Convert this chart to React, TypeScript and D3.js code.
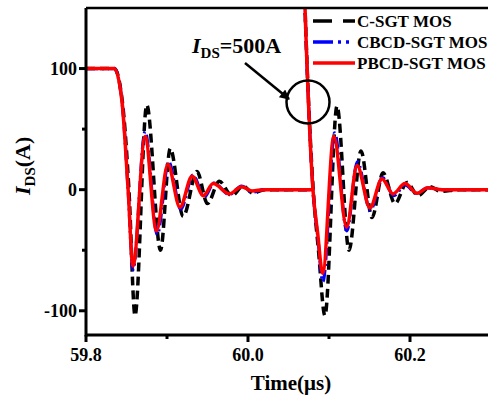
import React from "react";
import * as d3 from "d3";

// ---- data (time in µs, current in A) ----
const cTime1 = [59.8, 59.835, 59.845, 59.853, 59.8605, 59.875, 59.892, 59.904, 59.92, 59.937, 59.95, 59.9645, 59.98, 59.994, 60.006, 60.02, 60.05, 60.0805];
const cVal1 = [100, 100, 72, 0, -104, 70, -50, 34, -22, 15, -11.5, 7, -5, 3, -3, 0, 0, 0];
const cTime2 = [60.066, 60.0704, 60.0805, 60.087, 60.095, 60.1099, 60.1247, 60.1395, 60.1531, 60.1667, 60.1815, 60.1963, 60.2099, 60.2247, 60.238, 60.26, 60.3];
const cVal2 = [250, 150, 0, -50, -104, 69, -50, 32, -23, 14, -11.5, 6, -5, 2.5, -1.5, 0, 0];

const cbTime1 = [59.8, 59.835, 59.8444, 59.852, 59.858, 59.873, 59.888, 59.902, 59.917, 59.932, 59.946, 59.958, 59.977, 59.992, 60.005, 60.02, 60.05, 60.0802];
const cbVal1 = [100, 100, 73, 0, -66, 48, -37, 23, -16, 12, -6, 5.5, -4, 3, -2, 0, 0, 0];
const cbTime2 = [60.066, 60.0704, 60.0802, 60.086, 60.0925, 60.107, 60.122, 60.135, 60.151, 60.166, 60.18, 60.194, 60.208, 60.222, 60.24, 60.3];
const cbVal2 = [250, 150, 0, -38, -76, 47, -34, 23, -17, 10, -5, 4, -3, 1.5, 0, 0];

const pbTime1 = [59.8, 59.835, 59.8444, 59.852, 59.858, 59.873, 59.887, 59.901, 59.916, 59.931, 59.945, 59.957, 59.977, 59.992, 60.005, 60.02, 60.05, 60.0802];
const pbVal1 = [100, 100, 73, 0, -63, 44, -34, 21, -14.5, 11, -5, 5, -3.5, 2.5, -1, 0, 0, 0];
const pbTime2 = [60.066, 60.0704, 60.0802, 60.086, 60.0922, 60.106, 60.1218, 60.1346, 60.1506, 60.1654, 60.179, 60.1938, 60.2086, 60.222, 60.24, 60.3];
const pbVal2 = [250, 150, 0, -36, -69, 44, -31, 20, -15, 9, -3.5, 5, -3, 1.5, 0, 0];

const seriesNames = ["C-SGT MOS", "CBCD-SGT MOS", "PBCD-SGT MOS"];
const seriesColors = ["#000000", "#0000ff", "#ff0000"];

const xMajor = [59.8, 60.0, 60.2];
const xMinor = [59.9, 60.1];
const yMajor = [-100, 0, 100];
const yMinor = [-50, 50];

const W = 488;
const H = 399;
const left = 86;
const right = 491;
const top = 8;
const bottom = 335;

const serif = "Liberation Serif, DejaVu Serif, serif";

export default function App() {
  const x = d3.scaleLinear().domain([59.8, 60.3]).range([left, right]);
  const y = d3.scaleLinear().domain([-120, 150]).range([bottom, top]);
  const line = d3
    .line<number[]>()
    .x((d) => x(d[0]))
    .y((d) => y(d[1]))
    .curve(d3.curveMonotoneX);

  const zip = (t: number[], v: number[]) => t.map((tt, i) => [tt, v[i]]);
  const paths = [
    { d1: zip(cTime1, cVal1), d2: zip(cTime2, cVal2), color: seriesColors[0], w: 3.5, dash: "9,5" },
    { d1: zip(cbTime1, cbVal1), d2: zip(cbTime2, cbVal2), color: seriesColors[1], w: 3.2, dash: "12,4,2,4" },
    { d1: zip(pbTime1, pbVal1), d2: zip(pbTime2, pbVal2), color: seriesColors[2], w: 3.5, dash: "none" },
  ];

  const legendDash = ["19,11", "20,5,3,5,3,10", "none"];

  return (
    <svg
      width={W}
      height={H}
      style={{ position: "absolute", left: 0, top: 0, background: "#fff", fontFamily: serif, fontWeight: "bold" }}
    >
      <defs>
        <clipPath id="plotClip">
          <rect x={left} y={top} width={right - left} height={bottom - top} />
        </clipPath>
        <marker id="arrowHead" viewBox="0 0 10 10" refX="9" refY="5" markerWidth="5" markerHeight="4" orient="auto" markerUnits="strokeWidth">
          <path d="M0,0 L10,5 L0,10 z" fill="#000" />
        </marker>
      </defs>
      <rect x={0} y={0} width={W} height={H} fill="#fff" />

      <g clipPath="url(#plotClip)">
        {paths.map((p, i) => (
          <g key={i}>
            <path d={line(p.d1) || ""} fill="none" stroke={p.color} strokeWidth={p.w} strokeDasharray={p.dash} strokeLinejoin="round" />
            <path d={line(p.d2) || ""} fill="none" stroke={p.color} strokeWidth={p.w} strokeDasharray={p.dash} strokeLinejoin="round" />
          </g>
        ))}
      </g>

      {/* axes frame */}
      <line x1={left} x2={right} y1={bottom} y2={bottom} stroke="#000" strokeWidth={3} />
      <line x1={left} x2={right} y1={top} y2={top} stroke="#000" strokeWidth={2.5} />
      <line x1={left} x2={left} y1={top} y2={bottom + 1.5} stroke="#000" strokeWidth={3} />

      {/* x ticks */}
      {xMajor.map((t) => (
        <g key={"xm" + t}>
          <line x1={x(t)} x2={x(t)} y1={bottom} y2={bottom + 7} stroke="#000" strokeWidth={3} />
          <text x={x(t)} y={361} textAnchor="middle" fontSize={18}>
            {t.toFixed(1)}
          </text>
        </g>
      ))}
      {xMinor.map((t) => (
        <line key={"xn" + t} x1={x(t)} x2={x(t)} y1={bottom} y2={bottom + 4} stroke="#000" strokeWidth={3} />
      ))}

      {/* y ticks */}
      {yMajor.map((v) => (
        <g key={"ym" + v}>
          <line x1={left - 7} x2={left} y1={y(v)} y2={y(v)} stroke="#000" strokeWidth={3} />
          <text x={77} y={y(v) + 6} textAnchor="end" fontSize={18}>
            {v}
          </text>
        </g>
      ))}
      {yMinor.map((v) => (
        <line key={"yn" + v} x1={left - 4} x2={left} y1={y(v)} y2={y(v)} stroke="#000" strokeWidth={3} />
      ))}

      {/* axis titles */}
      <text x={291} y={390} textAnchor="middle" fontSize={21}>
        Time(μs)
      </text>
      <text transform="translate(30,195) rotate(-90)" fontSize={22}>
        <tspan fontStyle="italic">I</tspan>
        <tspan fontSize={15} dy={5}>DS</tspan>
        <tspan dy={-5}>(A)</tspan>
      </text>

      {/* annotation */}
      <text x={192} y={53} fontSize={22}>
        <tspan fontStyle="italic">I</tspan>
        <tspan fontSize={15} dy={5}>DS</tspan>
        <tspan dy={-5}>=500A</tspan>
      </text>
      <line x1={245} y1={63} x2={289} y2={99} stroke="#000" strokeWidth={2.5} markerEnd="url(#arrowHead)" />
      <circle cx={308} cy={102} r={21.5} fill="none" stroke="#000" strokeWidth={2.5} />

      {/* legend */}
      {seriesNames.map((name, i) => (
        <g key={name}>
          <line
            x1={313}
            x2={355}
            y1={21 + i * 21}
            y2={21 + i * 21}
            stroke={seriesColors[i]}
            strokeWidth={3.5}
            strokeDasharray={legendDash[i]}
          />
          <text x={357} y={27 + i * 21} fontSize={17}>
            {name}
          </text>
        </g>
      ))}
    </svg>
  );
}
